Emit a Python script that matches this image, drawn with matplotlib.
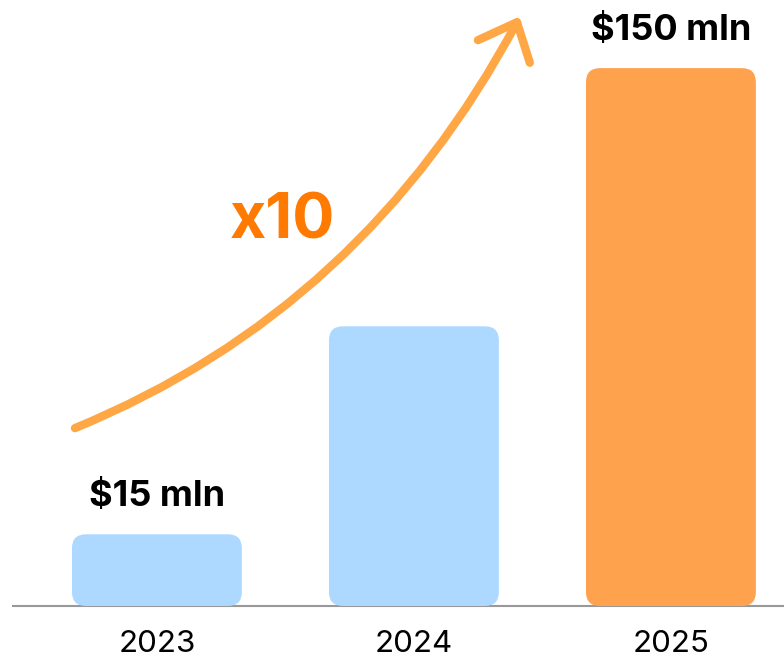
import matplotlib
matplotlib.use("Agg")
import matplotlib.pyplot as plt
from matplotlib.patches import FancyBboxPatch, PathPatch
from matplotlib.path import Path

years = ["2023", "2024", "2025"]
heights = [20, 78, 150]
labels = ["$15 mln", None, "$150 mln"]
colors = ["#ADD8FF", "#ADD8FF", "#FFA24D"]

W, H = 784, 661
fig = plt.figure(figsize=(W / 100, H / 100), dpi=100)
ax = fig.add_axes([13 / W, (H - 606) / H, (784 - 13) / W, 606 / H])
ax.set_xlim(-0.560, 2.440)
ax.set_ylim(0, 169)

bars = ax.bar(range(len(years)), heights, width=0.661, color=colors)
px_x = 257.0  # px per x unit
px_y = 606 / 169.0  # px per y unit
r_px = 14
for b, c in zip(bars, colors):
    x0, y0, w, h = b.get_x(), b.get_y(), b.get_width(), b.get_height()
    b.remove()
    p = FancyBboxPatch((x0, y0), w, h,
                       boxstyle=f"round,pad=0,rounding_size={r_px / px_x}",
                       mutation_aspect=px_x / px_y,
                       facecolor=c, edgecolor="none", zorder=2)
    ax.add_patch(p)

for i, (lab, h) in enumerate(zip(labels, heights)):
    if lab:
        ax.annotate(lab, (i, h), xytext=(0, 20.5), textcoords="offset points",
                    ha="center", va="baseline", fontsize=26, fontweight="bold",
                    family=["Inter", "DejaVu Sans"], color="#000000")

# growth arrow (quadratic curve)
p0 = (-0.319, 49.6)
p1 = (0.805, 82.7)
p2 = (1.401, 162.8)
curve = Path([p0, p1, p2], [Path.MOVETO, Path.CURVE3, Path.CURVE3])
ax.add_patch(PathPatch(curve, facecolor="none", edgecolor="#FFA745",
                       linewidth=6, capstyle="round", zorder=3))
ax.plot([1.249, 1.401, 1.451], [157.8, 162.8, 151.5], color="#FFA745",
        linewidth=6, solid_capstyle="round", solid_joinstyle="round", zorder=3)

ax.text(0.49, 107, "x10", ha="center", va="center", fontsize=45,
        fontweight="bold", color="#FF7A00", family=["Inter", "DejaVu Sans"])

ax.set_xticks(range(len(years)))
ax.set_xticklabels(years, fontsize=22.5, family=["Inter", "DejaVu Sans"])
ax.tick_params(axis="x", length=0, pad=17)
ax.set_yticks([])
for s in ["top", "left", "right"]:
    ax.spines[s].set_visible(False)
ax.spines["bottom"].set_color("#999999")
ax.spines["bottom"].set_linewidth(1.5)
ax.spines["bottom"].set_zorder(1)

fig.savefig("out.png", dpi=100)
